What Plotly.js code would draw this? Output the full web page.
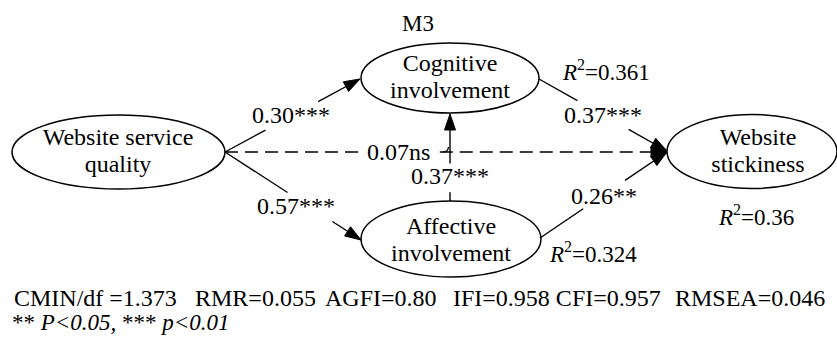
<!DOCTYPE html>
<html><head><meta charset="utf-8">
<script src="https://cdn.plot.ly/plotly-3.0.1.min.js"></script>
<style>html,body{margin:0;padding:0;background:#fff;overflow:hidden;}</style>
</head><body><div id="chart" style="width:837px;height:340px;"></div>
<script>
// ---------- DATA ----------
const modelName = "M3";
const nodeLine1 = ["Website service", "Cognitive", "Affective", "Website"];
const nodeLine2 = ["quality", "involvement", "involvement", "stickiness"];
const edgeFrom = [0, 0, 2, 1, 2, 0];
const edgeTo   = [1, 2, 1, 3, 3, 3];
const edgeCoef = ["0.30***", "0.57***", "0.37***", "0.37***", "0.26**", "0.07ns"];
const edgeSignificant = [true, true, true, true, true, false];
const rSquaredNode = [1, 2, 3];
const rSquaredValue = ["0.361", "0.324", "0.36"];
const fitIndices = ["CMIN/df =1.373", "RMR=0.055", "AGFI=0.80", "IFI=0.958 CFI=0.957", "RMSEA=0.046"];
const significanceNote = "** <i>P&lt;0.05,</i> *** <i>p&lt;0.01</i>";

// ---------- LAYOUT (positions / styles) ----------
const FONT = "'Liberation Serif', 'Times New Roman', Times, serif";
const nodePos = [
  {cx:118.5, cy:152, rx:106.5, ry:37, tx:118, ty:152},
  {cx:450,   cy:78,  rx:89,    ry:35, tx:450, ty:78},
  {cx:451,   cy:239, rx:90,    ry:38, tx:451, ty:241.5},
  {cx:752,   cy:151.5, rx:85,  ry:37, tx:758, ty:152}
];
const LINE_GAP = 27;
const edgeGeom = [
  {p0:[225,152], p1:[360,79],  gap:[0.30,0.69], lab:[291,115]},
  {p0:[225,152], p1:[361,240], gap:[0.46,0.79], lab:[296,206]},
  {p0:[450,201], p1:[450,114], gap:[0.10,0.43], lab:[450,176]},
  {p0:[539,79],  p1:[667,151], gap:[0.30,0.70], lab:[603,115]},
  {p0:[540,238], p1:[667,152], gap:[0.34,0.67], lab:[604,196]},
  {p0:[225,152], p1:[667,152], gap:[0.31,0.486], lab:[398,152]}
];
const rSqPos = [[606,70],[593,252],[756,215]];
const fitX = [12,193,323,451,673];
const fitY = 298;
const noteXY = [10,322];
const titleXY = [418,23];
const ARROW_L = 16, ARROW_HW = 5.5;

const shapes = [];
nodePos.forEach(n => shapes.push({type:'circle', xref:'x', yref:'y',
  x0:n.cx-n.rx, x1:n.cx+n.rx, y0:n.cy-n.ry, y1:n.cy+n.ry,
  line:{color:'#000', width:1.5}, fillcolor:'rgba(0,0,0,0)'}));

edgeFrom.forEach((f, i) => {
  const g = edgeGeom[i];
  const [x0,y0] = g.p0, [x1,y1] = g.p1;
  const pt = t => [x0 + (x1-x0)*t, y0 + (y1-y0)*t];
  const a = pt(g.gap[0]), b = pt(g.gap[1]);
  const dash = edgeSignificant[i] ? 'solid' : '13px,7px';
  shapes.push({type:'line', xref:'x', yref:'y', x0:x0, y0:y0, x1:a[0], y1:a[1], line:{color:'#000', width:1.4, dash:dash}});
  shapes.push({type:'line', xref:'x', yref:'y', x0:b[0], y0:b[1], x1:x1, y1:y1, line:{color:'#000', width:1.4, dash:dash}});
  const len = Math.hypot(x1-x0, y1-y0);
  const ux = (x1-x0)/len, uy = (y1-y0)/len;
  const bx = x1 - ux*ARROW_L, by = y1 - uy*ARROW_L;
  const px = -uy*ARROW_HW, py = ux*ARROW_HW;
  shapes.push({type:'path', xref:'x', yref:'y',
    path:`M${x1},${y1} L${bx+px},${by+py} L${bx-px},${by-py} Z`,
    fillcolor:'#000', line:{color:'#000', width:1}});
});
shapes.push({type:'path', xref:'x', yref:'y', path:'M443,152 Q448,152 448.5,147', line:{color:'#000', width:1.3}});

const annotations = [];
edgeCoef.forEach((c, i) => annotations.push({x:edgeGeom[i].lab[0], y:edgeGeom[i].lab[1], xref:'x', yref:'y',
  text:c, showarrow:false, font:{family:FONT, size:24, color:'#000'}}));
rSquaredValue.forEach((v, i) => annotations.push({x:rSqPos[i][0], y:rSqPos[i][1], xref:'x', yref:'y',
  text:'<i>R</i><sup>2</sup>=' + v, showarrow:false, font:{family:FONT, size:23, color:'#000'}}));
fitIndices.forEach((t, i) => annotations.push({x:fitX[i], y:fitY, xref:'x', yref:'y', xanchor:'left',
  text:t, showarrow:false, font:{family:FONT, size:24, color:'#000'}}));
annotations.push({x:noteXY[0], y:noteXY[1], xref:'x', yref:'y', xanchor:'left', text:significanceNote,
  showarrow:false, font:{family:FONT, size:23, color:'#000'}});
annotations.push({x:titleXY[0], y:titleXY[1], xref:'x', yref:'y', text:modelName,
  showarrow:false, font:{family:FONT, size:23, color:'#000'}});

const traces = [{
  type:'scatter', mode:'text',
  x: nodePos.map(n => n.tx).concat(nodePos.map(n => n.tx)),
  y: nodePos.map(n => n.ty - LINE_GAP/2).concat(nodePos.map(n => n.ty + LINE_GAP/2)),
  text: nodeLine1.concat(nodeLine2), textposition:'middle center',
  textfont:{family:FONT, size:24, color:'#000'}, hoverinfo:'skip', showlegend:false
}];

const layout = {
  width:837, height:340, margin:{l:0, r:0, t:0, b:0},
  paper_bgcolor:'#fff', plot_bgcolor:'#fff',
  font:{family:FONT},
  xaxis:{range:[0,837], visible:false, fixedrange:true},
  yaxis:{range:[340,0], visible:false, fixedrange:true},
  shapes:shapes, annotations:annotations, showlegend:false
};
Plotly.newPlot('chart', traces, layout, {staticPlot:true, displayModeBar:false});
</script></body></html>
